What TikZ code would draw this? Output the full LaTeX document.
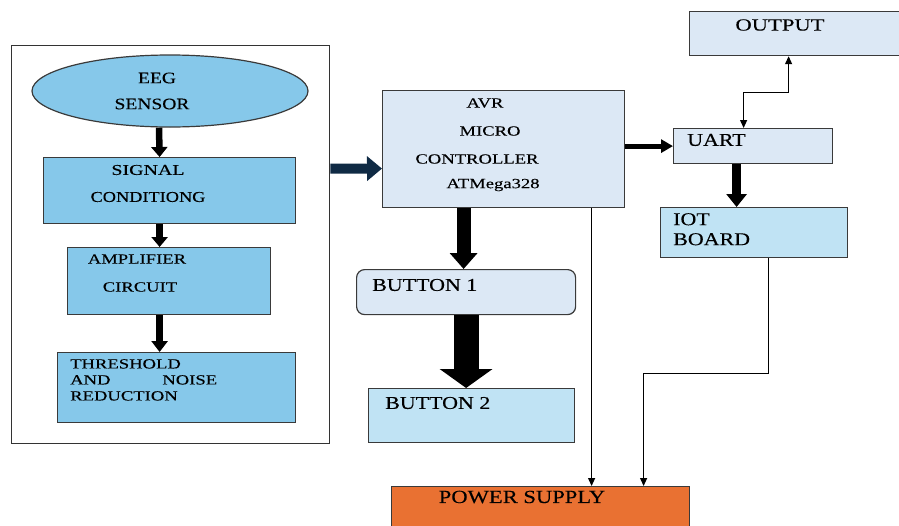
\documentclass[tikz,border=0pt]{standalone}
\usepackage{fontspec}
\setmainfont{Liberation Serif}
\newfontfamily\fwa[FakeStretch=1.33,FakeBold=0.2]{Liberation Serif}
\newfontfamily\fwb[FakeStretch=1.22,FakeBold=0.2]{Liberation Serif}
\usetikzlibrary{arrows.meta,shapes.geometric}
\definecolor{pale}{HTML}{DCE8F5}
\definecolor{sky}{HTML}{86C8EA}
\definecolor{lsky}{HTML}{C0E3F4}
\definecolor{orng}{HTML}{E97132}
\definecolor{navy}{HTML}{0F2A44}
\definecolor{edge}{HTML}{3A3A3A}
\begin{document}
\begin{tikzpicture}[x=1pt,y=-1pt,
  box/.style={draw=edge, line width=1.2pt, anchor=north west, inner sep=0pt},
  ts/.style={font=\fwa\fontsize{14}{16}\selectfont, inner sep=0pt},
  tm/.style={font=\fwb\fontsize{16}{18}\selectfont, inner sep=0pt},
  tl/.style={font=\fwb\fontsize{18}{20}\selectfont, inner sep=0pt},
  thin/.style={draw=black, line width=1.2pt}]
\useasboundingbox (0,0) rectangle (899,525);
\clip (0,0) rectangle (899,525);
% outer frame
\node[box, draw=black!80, line width=1.3pt, minimum width=318pt, minimum height=398pt] (outer) at (11,45) {};
% left column
\node[ellipse, draw=edge, line width=1.2pt, fill=sky, minimum width=276pt, minimum height=72pt, inner sep=0pt] (eeg) at (170,91) {};
\node[tm] (teeg) at (157,78) {EEG};
\node[tm] (tsen) at (152,104) {SENSOR};
\node[box, fill=sky, minimum width=252pt, minimum height=66pt] (sig) at (43,157) {};
\node[ts, font=\fwa\fontsize{15}{17}\selectfont] (tsig) at (148,170) {SIGNAL};
\node[ts, font=\fwb\fontsize{15}{17}\selectfont] (tcon) at (148,197) {CONDITIONG};
\node[box, fill=sky, minimum width=203pt, minimum height=67pt] (amp) at (67,247) {};
\node[ts] (tamp) at (137,259) {AMPLIFIER};
\node[ts] (tcir) at (140,287) {CIRCUIT};
\node[box, fill=sky, minimum width=238pt, minimum height=70pt] (thr) at (57,352) {};
\node[ts, anchor=north west, align=left, font=\fwa\fontsize{14}{16}\selectfont] (tthr) at (70,359) {THRESHOLD\\\makebox[147pt][s]{AND NOISE}\\REDUCTION};
% arrows left
\draw[line width=6.5pt, -{Triangle[width=16pt,length=10pt]}] ([xshift=-11pt]eeg.south) -- ([xshift=-10pt]sig.north);
\draw[line width=6.5pt, -{Triangle[width=16pt,length=10pt]}] ([xshift=-10pt]sig.south) -- ([xshift=-9.5pt]amp.north);
\draw[line width=6.5pt, -{Triangle[width=16pt,length=11pt]}] ([xshift=-9.5pt]amp.south) -- ([xshift=-17pt]thr.north);
% microcontroller
\node[box, fill=pale, minimum width=242pt, minimum height=117pt] (avr) at (382,90) {};
\node[ts] (tavr) at (485,103) {AVR};
\node[ts] (tmic) at (490,131) {MICRO};
\node[ts] (tctl) at (477,159) {CONTROLLER};
\node[ts] (tatm) at (493,185) {ATMega328};
\draw[navy, line width=10pt, -{Triangle[width=24pt,length=15pt]}] ([yshift=76pt]outer.east) -- ([yshift=-19.5pt]avr.west);
% right side
\node[box, fill=pale, minimum width=215pt, minimum height=44pt] (out) at (689,11) {};
\node[tl, font=\fwa\fontsize{17}{19}\selectfont] (tout) at (780,25) {OUTPUT};
\node[box, fill=pale, minimum width=159pt, minimum height=35pt] (uart) at (673,128) {};
\node[tl, anchor=west] (tuart) at (687,140) {UART};
\node[box, fill=lsky, minimum width=187pt, minimum height=50pt] (iot) at (660,207) {};
\node[tl, anchor=north west, align=left] (tiot) at (673,213) {IOT\\BOARD};
\draw[line width=5pt, -{Triangle[width=13pt,length=12pt]}] (avr.east |- uart.west) -- (uart.west);
\draw[thin, {Triangle[width=7pt,length=8pt]}-{Triangle[width=7pt,length=8pt]}] ([xshift=-9.5pt]uart.north) |- ([xshift=-8.5pt,yshift=-36pt]out.south) -- ([xshift=-8.5pt]out.south);
\draw[line width=9pt, -{Triangle[width=20pt,length=13pt]}] ([xshift=-16.5pt]uart.south) -- ([xshift=-16.5pt]uart.south |- iot.north);
% buttons
\node[box, fill=pale, rounded corners=8pt, minimum width=219pt, minimum height=45pt] (b1) at (356,269) {};
\node[tl, anchor=west] (tb1) at (372,285) {BUTTON 1};
\node[box, fill=lsky, minimum width=206pt, minimum height=54pt] (b2) at (368,388) {};
\node[tl, anchor=west] (tb2) at (385,403) {BUTTON 2};
\path ([xshift=-2.5pt]b1.north) coordinate (b1top);
\draw[line width=14pt, -{Triangle[width=27pt,length=16pt]}] (b1top |- avr.south) -- (b1top);
\draw[line width=25pt, -{Triangle[width=52pt,length=19pt]}] (b1.south) -- (b1.south |- b2.north);
% power supply
\node[box, fill=orng, minimum width=298pt, minimum height=45pt] (ps) at (391,486) {};
\node[tl, font=\fwb\fontsize{18.5}{20}\selectfont] (tps) at (522,497) {POWER SUPPLY};
\path ([xshift=51pt]ps.north) coordinate (psA);
\path ([xshift=103pt]ps.north) coordinate (psB);
\path ([xshift=14.5pt]iot.south) coordinate (iotB);
\draw[thin, -{Triangle[width=7pt,length=8pt]}] (psA |- avr.south) -- (psA);
\draw[thin, -{Triangle[width=7pt,length=8pt]}] (iotB) -- ([yshift=-115pt]iotB) -| (psB);
\end{tikzpicture}
\end{document}
